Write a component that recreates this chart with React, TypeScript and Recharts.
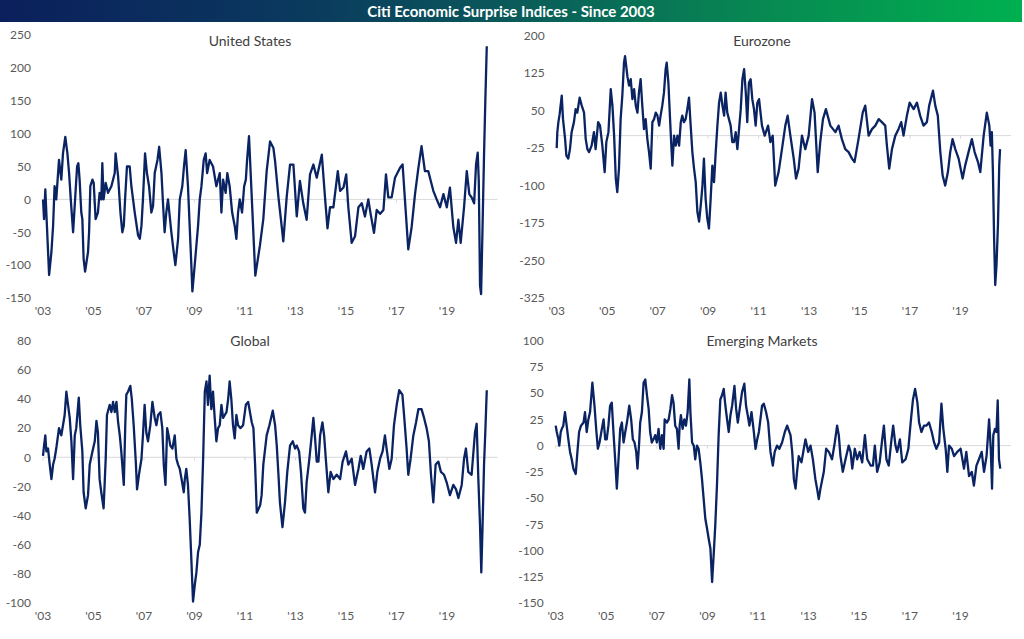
import React from 'react';
import { LineChart, Line, XAxis, YAxis, ReferenceLine } from 'recharts';

// x = months since Jan 2003, y = index value
const usMonths = [0, 0.5, 1.1, 2.9, 4.0, 4.8, 5.5, 6.3, 7.6, 8.7, 9.5, 10.6, 11.6, 12.4, 13.2, 14.3, 16.2, 16.8, 17.4, 18.2, 18.7, 19.3, 20, 21.4, 21.9, 22.5, 23.5, 24.1, 25, 26.1, 26.9, 27.7, 28.2, 28.8, 29.8, 30.9, 32.5, 34.1, 34.5, 35.7, 36.8, 37.7, 38.4, 39, 39.9, 41.2, 42, 42.8, 43.6, 45.2, 46, 46.8, 47.5, 48.5, 49.4, 50.4, 51.5, 52.3, 53.1, 54.4, 55.2, 56.3, 57.1, 57.8, 58.6, 59.4, 61, 62.1, 62.9, 64.2, 65, 66.2, 67, 67.8, 68.9, 69.7, 70.5, 71, 72.1, 73.7, 74.5, 75.3, 76.4, 77.3, 78, 79.2, 80.8, 82.4, 84, 84.8, 85.6, 86.8, 87.6, 88.7, 89.9, 91.1, 91.9, 92.7, 93.5, 94.6, 95.6, 96.4, 97, 97.9, 100.9, 103.1, 104.7, 106.3, 107.9, 109.5, 110.3, 111.9, 113.4, 114.2, 115.8, 117.4, 119, 120.6, 122.1, 123.7, 125.3, 126.9, 128.5, 130.1, 132.5, 134.1, 135.2, 136.4, 138, 140.1, 141.2, 142.8, 144.1, 145.1, 146.7, 148.3, 149.9, 151.5, 153, 154.6, 155.7, 157.3, 158.6, 160.2, 161.8, 163, 164.1, 165.7, 167.3, 169.7, 170.9, 172, 173.6, 175.2, 176.8, 178.4, 179.9, 181.5, 183.1, 183.9, 185.5, 187.1, 188.7, 190.3, 191.9, 193.4, 195, 196.3, 197.4, 198.5, 200.1, 201.4, 202.6, 203.7, 204.9, 205.8, 206.6, 207.1, 207.7, 208.2, 208.8, 209.6, 210.2, 210.9];
const usValues = [0, -30, 15, -115, -80, -40, 20, 0, 60, 30, 70, 95, 70, 40, 0, -50, 50, 55, 30, -20, -30, -90, -110, -80, -50, 20, 30, 25, -30, -20, 10, 0, 55, 0, 25, 10, 20, 40, 70, 35, -20, -50, -40, 0, 50, 50, 20, 0, -20, -55, -60, -40, 0, 70, 40, 20, -20, -10, 40, 60, 80, 40, -10, -50, -20, 0, -50, -80, -100, -60, 0, 20, 50, 75, 20, -40, -100, -140, -100, -40, 0, 20, 60, 70, 40, 60, 50, 20, 40, -20, 30, 10, 40, 20, -20, -40, -60, -20, 0, -20, 20, 30, 60, 96, -116, -70, -30, 43, 88, 78, 58, 3, -40, -64, 3, 53, 53, -26, 28, -6, -31, 38, 53, 33, 68, 0, -44, -12, -12, 43, 13, 18, 38, -12, -66, -56, -12, -6, -26, 0, -22, -51, -16, -22, -16, 38, 3, 3, 33, 48, 53, 0, -76, -42, 8, 48, 81, 43, 43, 33, 13, 0, -12, 8, -12, 18, -42, -66, -31, -66, -12, 43, 8, 3, -6, 53, 71, 28, -131, -144, -56, 68, 148, 233];

const ezMonths = [0, 0.3, 0.8, 1.4, 2.4, 3, 4, 4.6, 5.5, 6.3, 7.1, 8.2, 9, 9.8, 10.9, 11.9, 13, 13.8, 14.6, 15.4, 16.6, 17.7, 18.5, 19.7, 20.6, 21.7, 22.8, 23.6, 24.6, 25.7, 26.5, 27.3, 28.1, 28.8, 29.6, 30.4, 31.2, 32, 32.5, 33.6, 34.4, 35.2, 36, 36.8, 37.6, 38.4, 39.1, 39.9, 40.7, 41.5, 42.3, 43.1, 43.9, 44.7, 45.5, 46.3, 47.1, 47.9, 48.7, 49.4, 50.2, 51, 51.8, 52.3, 53.1, 53.9, 54.5, 55, 55.8, 56.6, 57.4, 58.2, 59, 59.7, 60.5, 61.3, 62.1, 62.9, 63.7, 64.5, 65.3, 66.1, 66.9, 67.7, 68.5, 69.3, 70, 70.8, 71.6, 72.4, 73.2, 74, 74.8, 75.6, 76.4, 77.2, 78, 78.8, 79.6, 80.3, 81.1, 81.9, 82.7, 83.5, 84.3, 85.1, 85.9, 86.7, 87.5, 88.3, 89.1, 89.9, 90.6, 91.4, 92.2, 93, 93.8, 94.6, 95.4, 96.2, 97.6, 98.9, 100.5, 101.6, 102.7, 103.9, 105.5, 107.1, 108.7, 109.8, 111.1, 112.7, 113.8, 115, 116.6, 118.2, 119.8, 121.4, 122.6, 124.1, 125.3, 126.6, 128, 130.1, 132.5, 134, 135.6, 137.2, 138.8, 140.4, 141.6, 143.5, 145.5, 146.7, 148.3, 149.9, 151.5, 153.1, 154.6, 156.2, 157, 158.1, 159.4, 161, 162.5, 163.8, 164.9, 166.5, 167.8, 169.7, 171.3, 172.8, 174.4, 176, 177.1, 178.9, 180, 181.2, 182.4, 183.5, 184.7, 186, 187.1, 188.2, 189.5, 191.1, 193, 194.2, 195.8, 197.4, 198.7, 200.3, 201.4, 203, 204.5, 205.7, 206.3, 206.9, 207.4, 208, 208.5, 209.1, 209.8, 210.4, 210.8];
const ezValues = [-25, 7, 27, 43, 80, 33, -7, -40, -46, -27, 7, 27, 53, 46, 76, 60, 46, -7, -27, -33, -20, 7, -27, 27, 20, -20, -73, -13, 7, 93, 60, 0, -86, -113, -66, 33, 80, 146, 159, 119, 100, 113, 73, 93, 60, 46, 86, 113, 60, 13, 33, -7, -33, -66, 27, 33, 46, 40, 20, 40, 60, 86, 133, 146, 106, 33, -20, -60, 0, -20, 0, -20, 27, 40, 27, 33, 53, 76, 20, -33, -66, -93, -153, -172, -139, -100, -46, -126, -166, -186, -126, -60, -93, -33, 20, 66, 86, 60, 40, 86, 46, 33, 20, -13, -13, 7, -27, 13, 53, 113, 133, 86, 27, 106, 113, 73, 53, 20, 66, 73, 20, 0, 20, -13, 0, -100, -73, -27, 20, 40, 0, -46, -86, -66, 0, -27, 0, 73, 46, -73, -13, 33, 53, 20, 7, 20, -7, -27, -33, -46, -53, -7, 46, 60, 0, 13, 20, 33, 27, 20, -20, -66, -27, 0, 13, 27, 0, 40, 66, 53, 66, 40, 20, 27, 60, 90, 60, 40, -33, -80, -100, -73, -33, -7, -27, -46, -86, -60, -33, -7, -33, -53, -73, 0, 46, 20, -20, 7, -73, -212, -299, -259, -179, -60, -27];

const glMonths = [0, 0.5, 1.1, 1.6, 2.4, 3.2, 4, 4.8, 5.5, 6.3, 7.6, 8.7, 9.5, 10.3, 11.1, 11.9, 12.7, 13.5, 14.3, 15.1, 15.8, 17, 17.7, 18.7, 19.3, 20.3, 21.4, 22.2, 23.5, 24.6, 25.4, 26.1, 26.9, 27.7, 28.8, 29.8, 30.4, 31.7, 32.5, 33.3, 34.1, 34.9, 35.7, 36.5, 37.2, 38.4, 39.1, 39.6, 40.4, 41.5, 42.2, 43.1, 44.1, 44.7, 45.6, 46.8, 47.5, 48.3, 49.1, 49.9, 51, 52, 53.1, 53.9, 54.7, 55.8, 56.7, 57.4, 58.2, 59, 59.7, 60.5, 61.5, 62.6, 63.4, 64.2, 65, 66.1, 66.9, 67.4, 68.1, 68.9, 69.7, 70.5, 71.3, 72.1, 72.9, 73.7, 74.5, 75.3, 76.1, 76.9, 77.7, 78.4, 79.2, 80, 80.8, 81.6, 82.4, 83.2, 84, 84.8, 85.6, 86.4, 87.2, 88, 88.7, 89.5, 90.3, 91.1, 91.9, 92.7, 93.8, 95.1, 96.4, 97.5, 99.2, 100, 100.8, 101.6, 103.2, 103.9, 104.7, 106.3, 107.6, 109.2, 110.3, 111.1, 111.9, 112.6, 113.8, 115, 116.1, 117.4, 118.7, 119.8, 120.6, 121.7, 122.6, 123.7, 124.5, 125.3, 126.6, 127.7, 128.5, 129.3, 130.1, 130.9, 131.7, 132.8, 133.6, 134.5, 135.6, 136.7, 138, 139.6, 141.2, 142.4, 144, 145.1, 146.7, 148.3, 149.9, 151, 152.2, 153.8, 155.1, 156.2, 157.8, 158.9, 160.2, 161.4, 162.5, 163.3, 164.6, 165.7, 166.8, 168.1, 169.3, 170.8, 171.7, 172.8, 173.6, 174.7, 176, 177.3, 178.4, 179.9, 181.1, 182.3, 183.4, 184.4, 185.5, 186.6, 187.9, 189.1, 190.6, 191.8, 193.4, 195, 196.3, 197.4, 199, 200.1, 201, 202.1, 203.7, 205.3, 206.1, 206.9, 207.7, 208.3, 208.9, 209.6, 210.2, 210.9];
const glValues = [1, 8, 15, 4, 6, -5, -15, -5, -1, 6, 20, 15, 22, 29, 45, 36, 27, 11, -15, 15, 20, 41, 22, 4, -24, -35, -26, -5, 4, 11, 25, 17, -15, -24, -35, -1, 29, 36, 31, 38, 31, 38, 24, 15, 4, -19, 22, 43, 45, 49, 40, 22, -3, -22, -12, -1, 15, 36, 17, 11, 22, 38, 27, 22, 29, 31, 20, -5, -19, 20, 15, 8, 6, 15, -1, -5, -8, -17, -24, -15, -8, -19, -42, -70, -99, -88, -79, -65, -60, -38, -1, 45, 52, 36, 56, 33, 45, 27, 11, 20, 22, 36, 27, 29, 31, 40, 52, 40, 22, 13, 29, 22, 20, 22, 36, 38, 24, 20, -5, -38, -33, -26, -5, 15, 22, 32, 22, 8, -12, -31, -48, -31, -10, 8, 11, 6, 8, 4, -10, -35, -38, -17, -1, 15, 27, 13, -3, -3, 15, 24, 15, -3, -24, -10, -15, -12, -15, -3, 4, -5, -1, -19, -8, 1, -8, 4, 6, -5, -24, -10, -1, 4, 15, 6, -8, -1, 22, 36, 46, 43, 27, 6, -12, -1, 15, 24, 33, 33, 27, 20, 11, -12, -31, -5, -3, -10, -12, -17, -26, -19, -22, -28, -19, -1, 6, -10, -12, 17, 23, -15, -47, -79, -47, -5, 17, 46];

const emMonths = [0, 0.5, 1.3, 1.7, 2.4, 2.9, 3.6, 4.4, 5.2, 6, 6.8, 7.6, 8.4, 9.5, 10.3, 11.1, 12, 13.2, 13.9, 14.7, 15.5, 16.3, 17.4, 18.4, 19.2, 20, 20.8, 21.9, 22.7, 23.5, 24.2, 25, 25.8, 26.6, 27.4, 28.2, 29, 29.8, 30.6, 31.4, 32.2, 33, 33.8, 34.9, 35.8, 36.6, 37.4, 38.2, 38.8, 39.6, 40.1, 40.9, 41.7, 42.5, 43.3, 44.1, 44.8, 45.6, 46.4, 47.2, 48, 48.8, 49.6, 50.4, 51.2, 51.7, 52.8, 53.6, 54.4, 55.2, 55.9, 56.7, 57.5, 58.3, 58.8, 59.4, 60.2, 61, 61.8, 62.6, 63.4, 63.9, 64.7, 65.5, 66.2, 67, 67.8, 68.6, 69.4, 70.2, 71, 71.8, 72.6, 73.4, 74.2, 75, 75.7, 76.5, 77.3, 78.1, 78.9, 79.7, 80.5, 81.3, 82.1, 82.9, 83.7, 84.8, 85.6, 86.4, 87.3, 88.4, 89.5, 90.3, 91.1, 91.9, 92.9, 94, 94.8, 95.6, 96.4, 97.9, 98.7, 99.8, 100.8, 101.9, 103, 103.9, 105, 106.1, 107.4, 108.7, 109.8, 111.4, 112.2, 113, 113.8, 114.5, 115.3, 116.6, 117.7, 118.5, 119.8, 120.9, 122, 123.2, 124, 124.8, 125.6, 127.2, 128.3, 129.6, 131.1, 132.4, 133.5, 134.3, 135.1, 136.2, 137.5, 139, 139.9, 140.7, 141.9, 143, 144.2, 145.4, 146.7, 147.8, 149.4, 150.5, 151.4, 152.5, 153.7, 154.9, 155.7, 156.9, 158, 159.3, 160.1, 161.2, 162, 163.3, 164.4, 166, 167.3, 168.4, 169.5, 170.5, 171.6, 172.4, 173.5, 174.7, 175.8, 177.1, 178.4, 179.5, 180.6, 181.9, 183, 183.9, 185, 185.8, 186.6, 187.9, 189, 190.5, 192.1, 193.7, 194.8, 196.1, 197.4, 198.4, 199.6, 200.8, 202.1, 203.2, 204.4, 205.6, 206.4, 207, 207.6, 208.4, 209.1, 209.7, 210.3, 210.9];
const emValues = [19, 13, 6, 0, 13, 16, 19, 32, 19, 6, -6, -13, -22, -27, -6, 13, 19, 22, 32, 13, 25, 32, 60, 38, 16, -3, 3, 16, 25, 6, 6, 19, 38, 41, 13, -13, -41, -13, 16, 22, 3, 13, 22, 38, 25, 6, 3, -6, -22, 3, 22, 32, 60, 63, 48, 35, 13, 3, 6, 10, 3, 16, -3, 10, -3, 25, 22, 25, 35, 48, 41, 19, 16, -3, 19, 29, 16, 25, 19, 32, 63, 32, 3, 0, -13, 0, -3, -16, -32, -51, -70, -79, -89, -98, -130, -102, -76, -38, 10, 44, 48, 54, 38, 25, 13, 29, 38, 57, 35, 22, 35, 51, 59, 38, 29, 19, 32, 13, -3, 6, 13, 38, 40, 32, 22, -6, -19, -6, 0, -3, 3, 13, 19, 10, -6, -32, -41, -25, -10, -16, -3, 6, -6, 0, -13, -32, -41, -51, -41, -25, -3, -6, -13, 3, 19, 10, -10, -25, -13, 0, -6, -22, -3, -13, -6, -16, 10, -13, -19, -19, 0, -25, -16, 6, 19, -13, -19, 6, 19, 0, -6, 6, -16, -13, -3, 22, 44, 54, 41, 22, 13, 19, 19, 22, 13, 3, -3, 3, 40, 16, -3, -25, 0, -3, -10, -6, -3, -22, -6, -29, -25, -38, -19, -13, -6, -25, -10, 25, -3, -41, 10, 16, 13, 43, -13, -22];

const yearTicks = [0, 24, 48, 72, 96, 120, 144, 168, 192];
const usTicks = [-150, -100, -50, 0, 50, 100, 150, 200, 250];
const ezTicks = [-325, -250, -175, -100, -25, 50, 125, 200];
const glTicks = [-100, -80, -60, -40, -20, 0, 20, 40, 60, 80];
const emTicks = [-150, -125, -100, -75, -50, -25, 0, 25, 50, 75, 100];

const LINE = '#0a2362';
const FONT = 'Lato, "Open Sans", sans-serif';

const zip = (ms: number[], vs: number[]) => ms.map((m, i) => ({ m, v: vs[i] }));
const yearLabel = (m: number) => "'" + String(3 + m / 12).padStart(2, '0');

interface PanelProps {
  title: string;
  months: number[];
  values: number[];
  ticks: number[];
  left: number;
  top: number;
  height: number;
  marginTop: number;
  marginRight: number;
  axisWidth: number;
}

function Panel({ title, months, values, ticks, left, top, height, marginTop, marginRight, axisWidth }: PanelProps) {
  const data = zip(months, values);
  const lo = ticks[0];
  const hi = ticks[ticks.length - 1];
  const tickLen = (hi - lo) * 0.012;
  return (
    <div style={{ position: 'absolute', left, top, width: 512, height }}>
      <div style={{ position: 'absolute', left: 0, width: 500, top: 7, textAlign: 'center', fontSize: 14, color: '#404040', fontFamily: FONT }}>
        {title}
      </div>
      <LineChart width={512} height={height} data={data} margin={{ top: marginTop, right: marginRight, bottom: 0, left: 0 }}>
        <XAxis
          type="number"
          dataKey="m"
          domain={[0, 216]}
          ticks={yearTicks}
          tickFormatter={yearLabel}
          axisLine={false}
          tickLine={false}
          tickSize={0}
          tickMargin={8}
          height={22}
          interval={0}
          tick={{ fill: '#595959', fontSize: 12, fontFamily: FONT }}
        />
        <YAxis
          type="number"
          domain={[lo, hi]}
          ticks={ticks}
          axisLine={false}
          tickLine={false}
          tickSize={0}
          tickMargin={12}
          width={axisWidth}
          interval={0}
          tick={{ fill: '#595959', fontSize: 12, fontFamily: FONT }}
        />
        <ReferenceLine y={0} stroke="#d9d9d9" strokeWidth={1} />
        {yearTicks.map((t) => (
          <ReferenceLine key={t} segment={[{ x: t, y: 0 }, { x: t, y: -tickLen }]} stroke="#d9d9d9" />
        ))}
        <Line type="linear" dataKey="v" stroke={LINE} strokeWidth={2.3} strokeLinejoin="round" dot={false} isAnimationActive={false} />
      </LineChart>
    </div>
  );
}

export default function App() {
  return (
    <div style={{ position: 'absolute', left: 0, top: 0, width: 1024, height: 639, background: '#fff', overflow: 'hidden' }}>
      <div
        style={{
          position: 'absolute',
          left: 0,
          top: 0,
          width: 1022,
          height: 22,
          background: 'linear-gradient(90deg, #0b1f5c 0%, #0a3a5e 30%, #0a5a5a 50%, #078a52 75%, #00b050 100%)',
          color: '#fff',
          fontFamily: FONT,
          fontWeight: 700,
          fontSize: 15,
          lineHeight: '23px',
          textAlign: 'center',
        }}
      >
        Citi Economic Surprise Indices - Since 2003
      </div>
      <Panel title="United States" months={usMonths} values={usValues} ticks={usTicks} left={0} top={25} height={295} marginTop={10} marginRight={14.5} axisWidth={43} />
      <Panel title="Eurozone" months={ezMonths} values={ezValues} ticks={ezTicks} left={512} top={25} height={295} marginTop={10.7} marginRight={13} axisWidth={44.7} />
      <Panel title="Global" months={glMonths} values={glValues} ticks={glTicks} left={0} top={325} height={300} marginTop={15.7} marginRight={14.5} axisWidth={43} />
      <Panel title="Emerging Markets" months={emMonths} values={emValues} ticks={emTicks} left={512} top={325} height={300} marginTop={15.7} marginRight={13} axisWidth={43.7} />
    </div>
  );
}
